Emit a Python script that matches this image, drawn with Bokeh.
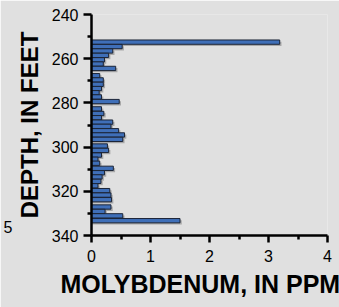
from bokeh.plotting import figure
from bokeh.models import Range1d, FixedTicker, ColumnDataSource, Title, LinearAxis
from bokeh.embed import file_html
from bokeh.resources import INLINE

# Sample mid-depths (feet) and molybdenum content (ppm)
depth_ft = [252.5, 254.5, 256.5, 258.5, 260.5, 262.4, 264.4, 267.7, 269.6, 271.6,
            273.5, 275.4, 277.3, 279.4, 282.7, 284.8, 286.7, 288.7, 290.6, 292.6,
            294.5, 296.5, 299.5, 301.5, 303.6, 305.5, 307.3, 309.6, 311.6, 313.5,
            315.5, 317.5, 319.7, 321.7, 323.8, 327.1, 329.1, 331.1, 333.3]
mo_ppm = [3.19, 0.52, 0.36, 0.29, 0.22, 0.20, 0.41, 0.14, 0.20, 0.20,
          0.17, 0.13, 0.17, 0.47, 0.17, 0.21, 0.17, 0.36, 0.33, 0.46,
          0.56, 0.53, 0.27, 0.29, 0.17, 0.11, 0.14, 0.37, 0.22, 0.18,
          0.16, 0.11, 0.31, 0.33, 0.34, 0.33, 0.23, 0.53, 1.50]
x_ticks = [0, 1, 2, 3, 4]
y_ticks = [240, 260, 280, 300, 320, 340]
x_title = "MOLYBDENUM, IN PPM"
y_title = "DEPTH, IN FEET"
neighbour_label = "5"   # tick label of the neighbouring panel, seen at the crop edge

BG = "#e0e0e0"
FONT = "Liberation Sans"

src = ColumnDataSource(dict(y=depth_ft, right=mo_ppm,
                            ys=[d + 0.8 for d in depth_ft],
                            rs=[m + 0.03 for m in mo_ppm]))

p = figure(width=339, height=307, output_backend="svg", toolbar_location=None,
           x_range=Range1d(0, 4), y_range=Range1d(340, 240),
           min_border_left=91, min_border_right=12, min_border_top=14,
           min_border_bottom=72)
p.background_fill_color = BG
p.border_fill_color = BG
p.outline_line_color = None
p.grid.visible = False

# drop shadow
p.hbar(y="ys", left=0, right="rs", height=1.95, source=src,
       fill_color="#a8a8a8", line_color=None)
p.hbar(y="y", left=0, right="right", height=1.95, source=src,
       fill_color="#3f6fb8", line_color="#1b2436", line_width=1)

for ax in (p.xaxis[0], p.yaxis[0]):
    ax.axis_line_width = 2.5
    ax.axis_line_color = "black"
    ax.major_tick_line_width = 2.5
    ax.minor_tick_line_width = 2.5
    ax.major_tick_in = 0
    ax.minor_tick_in = 0
    ax.major_label_text_font = FONT
    ax.major_label_text_font_size = "16px"
    ax.major_label_text_color = "black"

p.xaxis.ticker = FixedTicker(ticks=x_ticks, minor_ticks=[0.5, 1.5, 2.5, 3.5])
p.yaxis.ticker = FixedTicker(ticks=y_ticks, minor_ticks=[250, 270, 290, 310, 330])
p.xaxis.major_tick_out = 7
p.xaxis.minor_tick_out = 4
p.yaxis.major_tick_out = 8
p.yaxis.minor_tick_out = 4
p.xaxis.major_label_standoff = 7
p.yaxis.major_label_standoff = 5

yax = p.yaxis[0]
yax.axis_label = y_title
yax.axis_label_text_font = FONT
yax.axis_label_text_font_size = "24px"
yax.axis_label_text_font_style = "bold"
yax.axis_label_text_color = "black"
yax.axis_label_standoff = 6

# second left axis only carrying the neighbouring panel's "5"
nb = LinearAxis(ticker=FixedTicker(ticks=[336]), major_label_overrides={336: neighbour_label},
                axis_line_color=None, major_tick_line_color=None, minor_tick_line_color=None,
                major_tick_out=0, major_tick_in=0, major_label_standoff=0,
                major_label_text_font=FONT, major_label_text_font_size="16px",
                major_label_text_color="black")
p.add_layout(nb, "left")

p.add_layout(Title(text=x_title, align="left", offset=-31, standoff=7,
                   text_font=FONT, text_font_size="25px", text_font_style="bold",
                   text_color="black"), "below")

html = file_html(p, INLINE)
html = html.replace("<body>", '<body style="background:%s">' % BG, 1)
open("out.html", "w").write(html)
